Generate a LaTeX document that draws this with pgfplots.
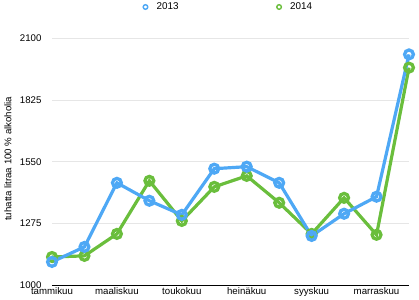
\documentclass[border=0pt]{standalone}
\usepackage{pgfplots}
\pgfplotsset{compat=1.18}
\usepackage{fontspec}
\setmainfont{Liberation Sans}
\definecolor{cblue}{RGB}{78,168,245}
\definecolor{cgreen}{RGB}{106,190,60}
\definecolor{cgrid}{RGB}{230,230,230}
\begin{document}
\begin{tikzpicture}[font=\fontsize{9.7}{11}\selectfont]
\begin{axis}[
  scale only axis,
  width=357bp, height=246.5bp,
  xmin=0, xmax=11, ymin=1000, ymax=2100,
  clip=false,
  axis x line*=bottom, axis y line*=left,
  y axis line style={draw=none},
  x axis line style={black, line width=1pt, -},
  tick style={draw=none},
  ytick={1000,1275,1550,1825,2100},
  ymajorgrids, grid style={cgrid, line width=0.8pt},
  xtick={0,2,4,6,8,10},
  xticklabels={tammikuu,maaliskuu,toukokuu,heinäkuu,syyskuu,marraskuu},
  ticklabel style={font=\fontsize{9.7}{11}\selectfont},
  label style={font=\fontsize{10.6}{12}\selectfont},
  /pgf/number format/assume math mode=true,
  /pgf/number format/1000 sep={},
  yticklabel style={xshift=-7bp},
  xticklabel style={yshift=1bp},
  ylabel={tuhatta litraa 100 \% alkoholia},
  every axis y label/.style={at={(axis description cs:0,0.5)}, xshift=-44bp, yshift=3bp, rotate=90, anchor=center},
  legend columns=2,
  reverse legend,
  legend style={draw=none, fill=none, font=\fontsize{9.9}{11}\selectfont, at={(axis description cs:0.5,1)}, anchor=center, yshift=31.5bp, xshift=-3bp, inner sep=0pt,
    /tikz/every even column/.append style={column sep=94bp}},
  legend image code/.code={\path (-3bp,0bp) (7.5bp,0bp); \draw[#1, mark size=2.3bp, line width=1.4bp, mark options={fill=white, line width=1.4bp}] plot coordinates {(0bp,0bp)};},
]
\addplot[cgreen, line width=3.2bp, mark=o, mark size=4.4bp, mark options={fill=white, line width=3.3bp}]
 coordinates {(0,1125) (1,1130) (2,1228) (3,1465) (4,1286) (5,1438) (6,1487) (7,1367) (8,1228) (9,1389) (10,1224) (11,1970)};
\addlegendentry{2014}
\addplot[cblue, line width=3.2bp, mark=o, mark size=4.4bp, mark options={fill=white, line width=3.3bp}]
 coordinates {(0,1103) (1,1170) (2,1456) (3,1376) (4,1313) (5,1519) (6,1528) (7,1456) (8,1219) (9,1318) (10,1394) (11,2029)};
\addlegendentry{2013}
\end{axis}
\pgfresetboundingbox
\useasboundingbox (-52bp,-15bp) rectangle (367bp,285bp);
\end{tikzpicture}
\end{document}
